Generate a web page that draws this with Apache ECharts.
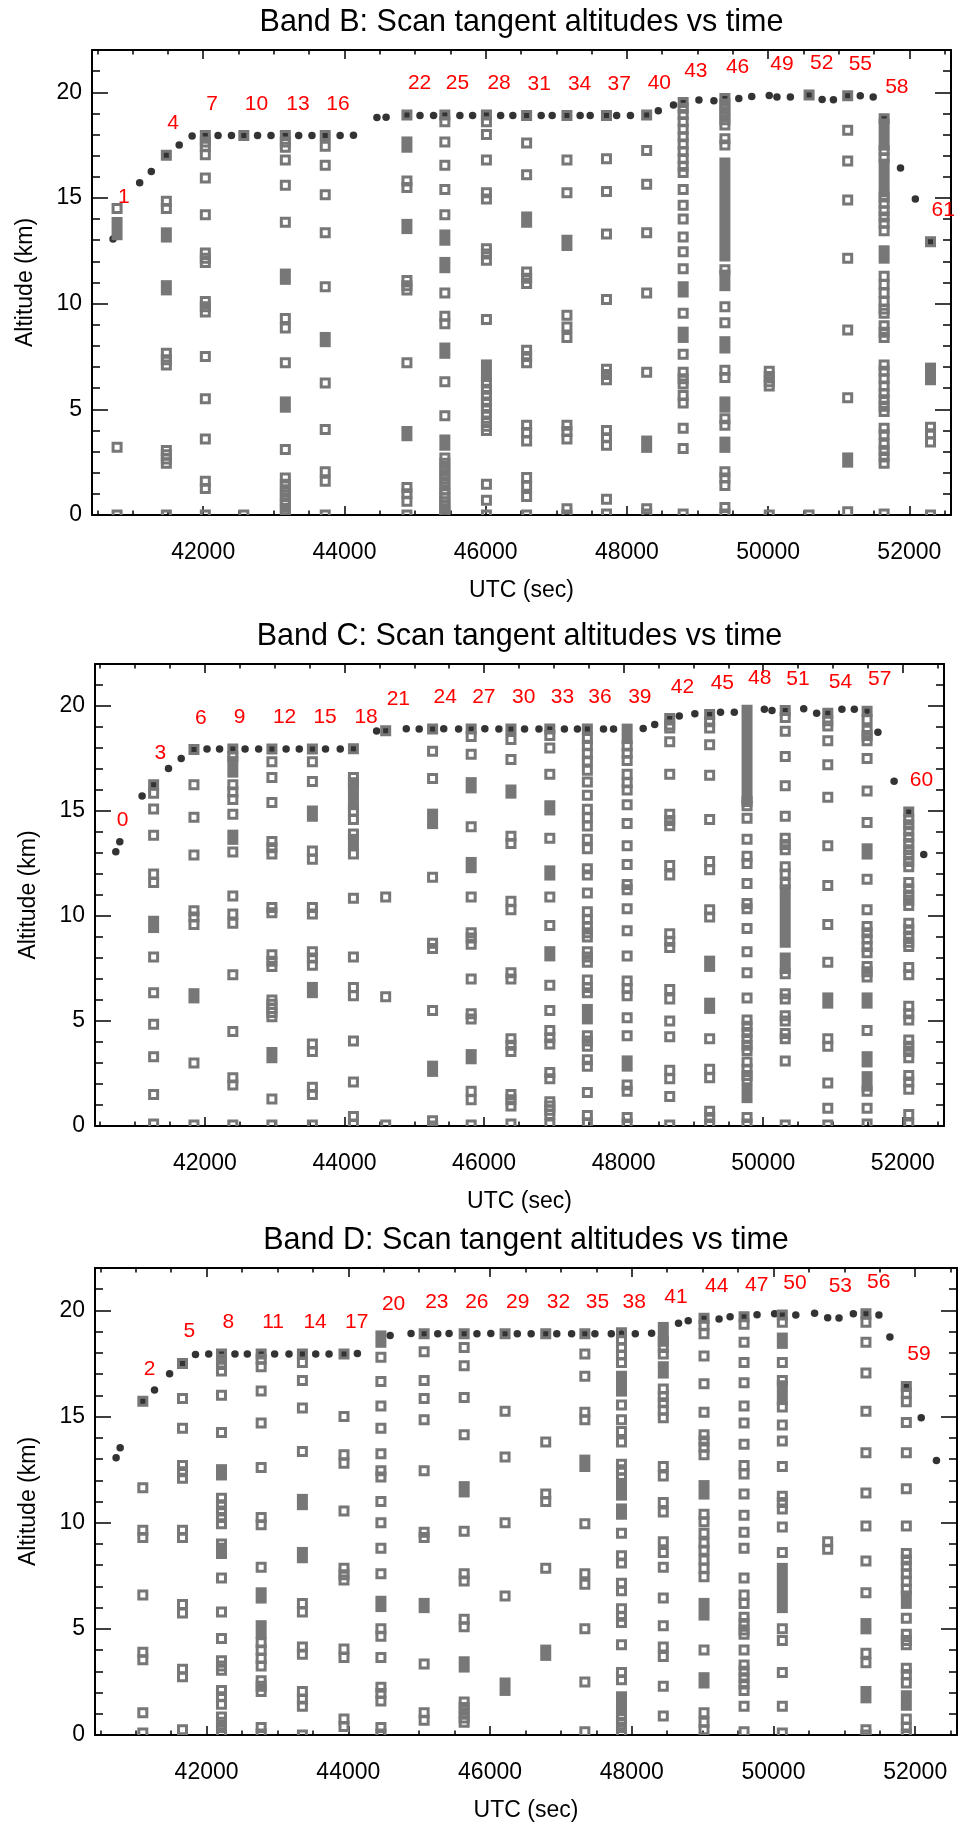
<!DOCTYPE html>
<html>
<head>
<meta charset="utf-8">
<script src="https://cdn.jsdelivr.net/npm/echarts@6/dist/echarts.min.js"></script>
<style>
  html, body { margin: 0; padding: 0; background: #fff; }
  #chart { width: 959px; height: 1825px; }
</style>
</head>
<body>
<div id="chart"></div>
<script>
// ---- scan sequence (scan 19 was not taken) ----
const scanIds = [0, 1, 2, 3, 4, 5, 6, 7, 8, 9, 10, 11, 12, 13, 14, 15, 16, 17, 18,
  20, 21, 22, 23, 24, 25, 26, 27, 28, 29, 30, 31, 32, 33, 34, 35, 36, 37, 38, 39, 40,
  41, 42, 43, 44, 45, 46, 47, 48, 49, 50, 51, 52, 53, 54, 55, 56, 57, 58, 59, 60, 61];
// UTC (sec) of each scan
const scanTimes = [40723, 40780, 41100, 41265, 41478, 41660, 41843, 42030, 42210, 42400,
  42575, 42770, 42960, 43163, 43352, 43540, 43728, 43939, 44128,
  44460, 44590, 44885, 45070, 45262, 45422, 45635, 45815, 46011, 46212, 46385,
  46580, 46786, 46942, 47151, 47338, 47480, 47711, 47855, 48050, 48280,
  48445, 48660, 48797, 49020, 49232, 49388, 49585, 49768, 50016, 50125,
  50315, 50580, 50765, 50925, 51127, 51305, 51488, 51643, 51875, 52085, 52300];
// highest tangent altitude (km) of each scan
const scanTops = [13.06, 13.53, 15.72, 16.25, 17.02, 17.5, 17.93, 17.95, 17.95, 17.95,
  17.95, 17.95, 17.95, 17.95, 17.95, 17.95, 17.95, 17.95, 17.97,
  18.81, 18.82, 18.92, 18.9, 18.9, 18.92, 18.9, 18.9, 18.92, 18.9, 18.9,
  18.9, 18.9, 18.9, 18.9, 18.9, 18.9, 18.9, 18.9, 18.9, 18.93,
  19.12, 19.4, 19.52, 19.63, 19.6, 19.7, 19.7, 19.8, 19.85, 19.78,
  19.78, 19.87, 19.66, 19.65, 19.84, 19.84, 19.78, 18.75, 16.42, 14.95, 12.93];

// ---- axis ticks ----
const xMajorTicks = [42000, 44000, 46000, 48000, 50000, 52000];
const xMinorTicks = [40500, 41000, 41500, 42500, 43000, 43500, 44500, 45000, 45500,
  46500, 47000, 47500, 48500, 49000, 49500, 50500, 51000, 51500, 52500];
const yMajorTicks = [0, 5, 10, 15, 20];
const yMinorTicks = [1, 2, 3, 4, 6, 7, 8, 9, 11, 12, 13, 14, 16, 17, 18, 19, 21];

// ---- Band B: scans labelled, measured altitudes, dense altitude runs ----
const bandBScans = [1, 4, 7, 10, 13, 16, 22, 25, 28, 31, 34, 37, 40, 43, 46, 49, 52, 55, 58, 61];
const bandBSquares = [
  [1, [14.5, 3.2, 0]],
  [4, [17.02, 14.85, 14.5, 7.65, 7.35, 7.1, 3.05, 2.85, 2.65, 2.45, 0]],
  [7, [17.95, 17.65, 17.45, 17.05, 15.95, 14.2, 12.4, 12.15, 11.95, 10.1, 9.85, 9.6, 7.5, 5.5, 3.6, 1.6, 1.25, 0]],
  [10, [17.95, 0]],
  [13, [17.95, 17.65, 17.4, 16.8, 15.6, 13.85, 9.3, 8.85, 7.2, 3.1, 1.75, 1.45, 1.2, 0.95, 0.7, 0.5, 0.25, 0]],
  [16, [17.95, 17.45, 16.55, 15.15, 13.35, 10.8, 6.25, 4.05, 2.05, 1.6, 0]],
  [22, [18.92, 15.8, 15.5, 11.1, 10.85, 10.65, 7.2, 1.3, 1.0, 0.65, 0]],
  [25, [18.92, 18.6, 17.65, 16.55, 15.4, 14.2, 10.5, 9.4, 9.05, 6.3, 4.7, 2.7, 2.45, 2.2, 1.95, 1.7, 1.45, 1.2, 1.0, 0.8, 0.6, 0.45, 0.3, 0.15, 0]],
  [28, [18.92, 18.6, 18.0, 16.8, 15.25, 14.95, 12.6, 12.35, 12.05, 9.25, 6.25, 5.95, 5.65, 5.35, 5.05, 4.75, 4.45, 4.2, 4.0, 1.45, 0.7, 0]],
  [31, [18.9, 17.6, 16.1, 11.5, 11.2, 10.95, 7.8, 7.5, 7.2, 4.25, 3.9, 3.5, 1.77, 1.36, 0.88, 0]],
  [34, [18.9, 16.8, 15.25, 9.45, 8.9, 8.4, 4.25, 3.95, 3.6, 0.3, 0]],
  [37, [18.9, 16.85, 15.3, 13.3, 10.2, 6.9, 6.65, 6.4, 4.0, 3.65, 3.3, 0.75, 0.05]],
  [40, [18.93, 17.25, 15.65, 13.35, 10.5, 6.75, 0.3, 0.05]],
  [43, [19.52, 19.25, 18.95, 18.6, 18.25, 17.9, 17.55, 17.2, 16.85, 16.5, 16.2, 15.4, 14.65, 14.0, 13.15, 12.45, 11.65, 9.55, 7.6, 6.75, 6.45, 6.2, 5.65, 5.3, 4.1, 3.15, 0.05]],
  [46, [19.7, 19.45, 19.2, 18.95, 18.7, 18.45, 17.8, 17.5, 11.6, 9.85, 9.1, 6.85, 6.5, 4.55, 4.25, 2.05, 1.75, 1.4, 0.35, 0.05]],
  [49, [6.8, 6.55, 6.3, 6.1, 0]],
  [52, [19.87, 0]],
  [55, [19.84, 18.2, 16.75, 14.9, 12.15, 8.75, 5.55, 0.15]],
  [58, [18.75, 17.25, 16.9, 15.05, 14.75, 14.4, 14.1, 13.8, 13.45, 11.3, 10.9, 10.5, 10.1, 9.75, 9.55, 8.95, 8.65, 8.4, 7.1, 6.8, 6.45, 6.1, 5.75, 5.45, 5.15, 4.9, 4.1, 3.8, 3.35, 3.05, 2.75, 2.45, 0.05]],
  [61, [12.93, 4.15, 3.85, 3.45, 0]]
];
const bandBRuns = [
  [1, 13.26, 13.84], [4, 13.15, 13.35], [4, 10.65, 10.85], [13, 11.15, 11.4], [13, 5.1, 5.35],
  [16, 8.2, 8.4], [22, 17.4, 17.65], [22, 13.55, 13.75], [22, 3.75, 3.95], [25, 13.0, 13.25],
  [25, 11.7, 11.95], [25, 7.65, 7.9], [25, 3.3, 3.55], [28, 6.55, 7.1], [31, 13.85, 14.1],
  [34, 12.75, 13.0], [40, 3.2, 3.5], [43, 10.55, 10.8], [43, 8.4, 8.65], [46, 12.25, 16.65],
  [46, 10.85, 11.35], [46, 7.9, 8.2], [46, 5.1, 5.35], [46, 3.2, 3.45], [55, 2.5, 2.7],
  [58, 17.5, 18.5], [58, 15.3, 16.6], [58, 12.15, 12.5], [61, 6.4, 6.95]
];

// ---- Band C ----
const bandCScans = [0, 3, 6, 9, 12, 15, 18, 21, 24, 27, 30, 33, 36, 39, 42, 45, 48, 51, 54, 57, 60];
const bandCSquares = [
  [3, [16.25, 15.85, 15.1, 13.85, 12.0, 11.6, 8.05, 6.35, 4.85, 3.3, 1.5, 0.1]],
  [6, [17.93, 16.25, 14.7, 12.9, 10.25, 9.95, 9.6, 3.0, 0.05]],
  [9, [17.95, 17.6, 16.25, 15.9, 15.55, 14.85, 13.05, 10.95, 10.1, 9.65, 7.2, 4.5, 2.3, 1.95, 0.05]],
  [12, [17.95, 17.35, 16.6, 15.4, 13.55, 13.25, 12.95, 10.4, 10.15, 8.15, 7.85, 7.6, 6.0, 5.8, 5.6, 5.4, 5.2, 1.28, 0.05]],
  [15, [17.95, 17.35, 16.4, 13.1, 12.7, 10.4, 10.1, 8.3, 8.0, 7.65, 3.9, 3.55, 1.85, 1.5, 0.05]],
  [18, [17.97, 16.6, 16.35, 15.0, 14.6, 13.9, 12.95, 10.85, 8.05, 6.6, 6.2, 4.05, 2.1, 0.45, 0.1]],
  [21, [18.82, 10.9, 6.15, 0.05]],
  [24, [18.9, 17.85, 16.55, 11.85, 8.7, 8.45, 5.5, 0.25, 0]],
  [27, [18.9, 18.55, 17.7, 14.25, 10.9, 9.2, 8.95, 8.65, 7.0, 5.35, 5.1, 1.65, 1.25, 0.05]],
  [30, [18.9, 18.4, 17.45, 13.8, 13.45, 10.7, 10.3, 7.3, 7.0, 4.15, 3.85, 3.55, 1.5, 1.25, 0.95, 0.1]],
  [33, [18.9, 18.6, 18.0, 16.75, 13.7, 10.9, 9.55, 6.7, 5.5, 4.55, 4.2, 3.9, 2.55, 2.25, 1.15, 0.95, 0.75, 0.55, 0.1]],
  [36, [18.9, 18.45, 18.13, 17.73, 17.38, 16.94, 16.38, 15.75, 15.08, 14.68, 14.28, 13.65, 13.2, 12.25, 11.95, 11.1, 10.2, 9.85, 9.5, 9.2, 9.0, 8.3, 8.05, 7.8, 6.95, 6.6, 6.35, 4.3, 4.05, 3.8, 3.15, 2.85, 1.6, 0.5, 0.15]],
  [39, [18.1, 17.75, 17.4, 16.75, 16.35, 16.0, 15.3, 14.4, 13.35, 12.45, 11.5, 11.25, 10.35, 9.3, 8.1, 6.9, 6.55, 6.2, 5.15, 4.3, 1.95, 1.65, 0.4, 0.1]],
  [42, [19.4, 19.1, 18.95, 18.3, 16.75, 14.85, 14.55, 14.3, 12.4, 11.95, 9.15, 8.8, 8.5, 6.5, 6.05, 5.0, 4.25, 2.65, 2.25, 1.4, 0.05]],
  [45, [19.6, 19.25, 18.95, 18.15, 16.7, 14.6, 12.6, 12.2, 10.3, 9.95, 4.15, 2.7, 2.3, 0.7, 0.4, 0.1]],
  [48, [15.45, 15.25, 14.65, 13.65, 12.85, 12.5, 11.55, 10.6, 10.35, 9.4, 8.3, 7.3, 6.1, 5.05, 4.75, 4.45, 4.15, 3.85, 3.6, 3.05, 2.7, 2.4, 2.2, 0.4, 0.1]],
  [51, [19.78, 19.45, 18.8, 17.6, 16.2, 14.75, 13.7, 13.4, 13.15, 12.35, 12.0, 11.55, 7.25, 6.3, 6.05, 5.25, 5.0, 4.4, 4.15, 3.1, 0.05]],
  [54, [19.65, 19.3, 19.05, 18.35, 17.2, 15.65, 13.35, 11.45, 9.6, 7.8, 4.15, 3.8, 2.05, 0.85, 0.05]],
  [57, [19.75, 19.35, 18.85, 18.6, 18.35, 17.5, 15.95, 14.45, 11.75, 10.3, 9.5, 9.2, 8.9, 8.55, 8.25, 7.6, 7.35, 7.1, 4.55, 1.65, 0.85, 0.1]],
  [60, [14.95, 14.6, 14.35, 14.05, 13.75, 13.45, 13.15, 12.9, 12.6, 12.35, 11.6, 11.3, 11.0, 10.75, 10.5, 9.65, 9.35, 9.05, 8.75, 8.55, 7.55, 7.2, 5.7, 5.35, 5.05, 4.1, 3.8, 3.55, 3.25, 2.4, 2.1, 1.75, 0.55, 0.1]]
];
const bandCRuns = [
  [3, 9.45, 9.75], [6, 6.1, 6.3], [9, 16.85, 17.35], [9, 13.65, 13.85], [12, 3.25, 3.5],
  [15, 14.75, 15.0], [15, 6.35, 6.6], [18, 15.3, 16.1], [18, 13.4, 13.65], [24, 14.4, 14.85],
  [24, 2.6, 2.85], [27, 16.1, 16.35], [27, 12.3, 12.55], [27, 3.2, 3.4], [30, 15.85, 16.0],
  [33, 15.05, 15.25], [33, 11.95, 12.15], [33, 8.1, 8.3], [36, 5.1, 5.55], [39, 18.45, 18.9],
  [39, 2.85, 3.1], [45, 7.6, 7.85], [45, 5.6, 5.85], [48, 15.6, 19.8], [48, 1.35, 1.7],
  [51, 8.75, 11.25], [51, 7.5, 8.0], [54, 5.85, 6.1], [57, 12.95, 13.2], [57, 5.85, 6.1],
  [57, 3.05, 3.3], [57, 1.9, 2.35]
];

// ---- Band D ----
const bandDScans = [2, 5, 8, 11, 14, 17, 20, 23, 26, 29, 32, 35, 38, 41, 44, 47, 50, 53, 56, 59];
const bandDSquares = [
  [2, [15.72, 11.65, 9.65, 9.3, 6.6, 3.9, 3.55, 1.05, 0.1]],
  [5, [17.5, 15.85, 14.45, 12.7, 12.4, 12.1, 9.65, 9.3, 6.15, 5.75, 3.1, 2.75, 0.25]],
  [8, [17.95, 17.7, 17.45, 17.15, 16.0, 14.25, 11.15, 10.85, 10.55, 10.25, 9.95, 9.0, 7.4, 5.8, 4.55, 3.5, 3.25, 3.05, 2.1, 1.8, 1.45, 0.85, 0.6, 0.35, 0.1]],
  [11, [17.95, 17.7, 17.35, 16.2, 14.7, 12.6, 10.25, 9.9, 7.9, 4.35, 4.0, 3.6, 3.25, 2.55, 2.3, 2.05, 0.35, 0.05]],
  [14, [17.95, 17.55, 16.7, 15.4, 13.35, 6.2, 5.8, 4.15, 3.8, 2.05, 1.7, 1.35, 0]],
  [17, [17.95, 15.0, 13.2, 12.8, 10.55, 7.85, 7.55, 7.3, 4.05, 3.65, 0.75, 0.4]],
  [20, [17.8, 16.65, 15.5, 14.45, 13.25, 12.45, 12.15, 11.0, 10.0, 8.8, 7.6, 5.0, 4.65, 3.65, 2.25, 1.95, 1.6, 0.35, 0.05]],
  [23, [18.9, 18.05, 16.7, 15.85, 14.85, 12.45, 9.55, 9.3, 3.35, 1.05, 0.7]],
  [26, [18.9, 18.25, 17.4, 15.9, 14.15, 9.6, 7.6, 7.25, 5.45, 5.1, 1.55, 1.3, 1.05, 0.8, 0.6]],
  [29, [18.9, 15.25, 13.1, 10.0, 6.55]],
  [32, [18.9, 13.8, 11.35, 11.0, 7.85]],
  [35, [18.9, 17.95, 16.9, 15.2, 14.85, 9.95, 7.6, 7.1, 5.0, 2.5, 0.15]],
  [38, [18.95, 18.6, 18.25, 17.9, 17.55, 15.55, 14.85, 14.3, 13.8, 12.75, 12.5, 12.1, 9.5, 8.45, 8.1, 7.15, 6.8, 5.95, 5.6, 5.3, 4.25, 2.95, 2.6, 1.15, 0.9, 0.6, 0.35, 0.1]],
  [41, [18.55, 18.25, 17.95, 16.3, 15.95, 15.65, 15.3, 14.95, 12.65, 12.2, 10.95, 10.5, 9.1, 8.6, 7.9, 6.45, 5.15, 4.15, 3.7, 2.3, 0.9]],
  [44, [19.63, 19.3, 18.9, 17.85, 16.55, 15.2, 14.15, 13.85, 13.55, 13.2, 10.4, 10.05, 9.5, 9.05, 8.7, 8.25, 7.85, 7.45, 4.0, 1.05, 0.6, 0.25]],
  [47, [19.7, 19.35, 18.5, 17.55, 16.6, 15.5, 14.7, 13.7, 12.7, 12.3, 11.35, 10.35, 9.55, 8.8, 7.4, 6.6, 6.2, 5.55, 5.25, 4.95, 4.75, 4.0, 3.3, 3.0, 2.7, 2.4, 2.1, 1.35, 0.15]],
  [50, [19.78, 19.45, 17.55, 16.7, 15.45, 14.6, 13.85, 12.65, 11.25, 10.95, 10.65, 9.8, 8.6, 5.0, 4.45, 2.95, 1.35, 0.1]],
  [53, [9.1, 8.75]],
  [56, [19.84, 19.45, 18.5, 17.05, 15.25, 13.3, 11.4, 9.85, 8.2, 6.7, 3.85, 3.4, 0.25, 0]],
  [59, [16.42, 16.1, 15.7, 14.72, 13.3, 11.6, 9.85, 8.55, 8.25, 7.95, 7.6, 7.25, 6.85, 5.5, 4.75, 4.45, 4.25, 3.15, 2.85, 2.45, 0.75, 0.35, 0.05]]
];
const bandDRuns = [
  [8, 12.25, 12.5], [8, 8.55, 8.8], [11, 6.45, 6.7], [11, 4.8, 5.15], [14, 10.85, 11.1],
  [14, 8.35, 8.6], [20, 18.5, 18.8], [20, 6.05, 6.3], [23, 6.0, 6.2], [26, 11.45, 11.7],
  [26, 3.2, 3.45], [29, 2.1, 2.45], [32, 3.75, 4.0], [35, 12.65, 12.95], [38, 16.2, 16.9],
  [38, 11.3, 11.85], [38, 10.4, 10.65], [38, 1.3, 1.8], [41, 18.75, 19.2], [41, 17.05, 17.35],
  [44, 11.35, 11.75], [44, 5.65, 6.2], [44, 2.45, 2.7], [50, 18.45, 18.7], [50, 15.8, 16.45],
  [50, 6.0, 7.85], [56, 5.0, 5.25], [56, 1.75, 2.05], [59, 6.2, 6.55], [59, 1.4, 1.85]
];

// ---- styling / layout ----
const FONT = 'Liberation Sans, Arial, Helvetica, sans-serif';
const GRAY = '#777777';
const X_MIN = 40425, X_MAX = 52590;
const Y_MIN = 0, Y_MAX = 22;
const LABEL_LIFT = 1.5;      // km above the scan top where the scan number sits
const SQ = 8, SQ_LINE = 3;   // open square path size and stroke (px)

const panels = [
  { title: 'Band B: Scan tangent altitudes vs time', grid: { left: 92, top: 50, width: 859, height: 465 },
    scans: bandBScans, squares: bandBSquares, runs: bandBRuns },
  { title: 'Band C: Scan tangent altitudes vs time', grid: { left: 95, top: 664, width: 849, height: 462 },
    scans: bandCScans, squares: bandCSquares, runs: bandCRuns },
  { title: 'Band D: Scan tangent altitudes vs time', grid: { left: 95, top: 1268, width: 862, height: 467 },
    scans: bandDScans, squares: bandDSquares, runs: bandDRuns }
];

function timeOf(scan) { return scanTimes[scanIds.indexOf(scan)]; }
function topOf(scan) { return scanTops[scanIds.indexOf(scan)]; }
function plainNumber(v) { return String(v); }

function tickAxis(g, dim, position, values, len, opts) {
  const base = {
    gridIndex: g, type: 'value',
    min: dim === 'x' ? X_MIN : Y_MIN, max: dim === 'x' ? X_MAX : Y_MAX,
    position: position,
    axisLine: { show: false, onZero: false },
    axisTick: { show: true, inside: true, length: len, customValues: values,
      lineStyle: { color: '#000', width: 1.5 } },
    axisLabel: { show: false, customValues: values },
    splitLine: { show: false },
    silent: true
  };
  return Object.assign(base, opts || {});
}

const frameLine = { show: true, onZero: false, lineStyle: { color: '#000', width: 2 } };

const xAxes = [], yAxes = [], grids = [], series = [];

panels.forEach(function (p, g) {
  grids.push(Object.assign({ containLabel: false }, p.grid));

  // x axes: bottom (labelled), bottom minor, top (carries title), top minor
  xAxes.push(tickAxis(g, 'x', 'bottom', xMajorTicks, 9, {
    axisLine: frameLine,
    axisLabel: { show: true, customValues: xMajorTicks, formatter: plainNumber, margin: 26,
      fontSize: 23, color: '#000', fontFamily: FONT },
    name: 'UTC (sec)', nameLocation: 'middle', nameGap: 64,
    nameTextStyle: { fontSize: 23, color: '#000', fontFamily: FONT }
  }));
  xAxes.push(tickAxis(g, 'x', 'bottom', xMinorTicks, 4.5));
  xAxes.push(tickAxis(g, 'x', 'top', xMajorTicks, 9, {
    axisLine: frameLine,
    name: p.title, nameLocation: 'middle', nameGap: 12,
    nameTextStyle: { fontSize: 30.5, color: '#000', fontFamily: FONT }
  }));
  xAxes.push(tickAxis(g, 'x', 'top', xMinorTicks, 4.5));

  // y axes: left (labelled), left minor, right, right minor
  yAxes.push(tickAxis(g, 'y', 'left', yMajorTicks, 16, {
    axisLine: frameLine,
    axisLabel: { show: true, customValues: yMajorTicks, formatter: plainNumber, margin: 10,
      fontSize: 23, color: '#000', fontFamily: FONT },
    name: 'Altitude (km)', nameLocation: 'middle', nameGap: 55, nameRotate: 90,
    nameTextStyle: { fontSize: 23, color: '#000', fontFamily: FONT }
  }));
  yAxes.push(tickAxis(g, 'y', 'left', yMinorTicks, 8));
  yAxes.push(tickAxis(g, 'y', 'right', yMajorTicks, 16, { axisLine: frameLine }));
  yAxes.push(tickAxis(g, 'y', 'right', yMinorTicks, 8));

  const xi = g * 4, yi = g * 4;

  // scan tops (all scans, every band)
  series.push({
    type: 'scatter', xAxisIndex: xi, yAxisIndex: yi, silent: true,
    symbol: 'circle', symbolSize: 7.5, itemStyle: { color: '#000' },
    data: scanIds.map(function (s, i) { return [scanTimes[i], scanTops[i]]; }),
    z: 2
  });

  // measured tangent altitudes of this band: open squares
  const sqData = [];
  p.squares.forEach(function (col) {
    const t = timeOf(col[0]);
    col[1].forEach(function (a) { sqData.push([t, a]); });
  });
  series.push({
    type: 'custom', xAxisIndex: xi, yAxisIndex: yi, silent: true, clip: true, z: 3,
    encode: { x: 0, y: 1 },
    data: sqData,
    renderItem: function (params, api) {
      const c = api.coord([api.value(0), api.value(1)]);
      return { type: 'rect',
        shape: { x: c[0] - SQ / 2, y: c[1] - SQ / 2, width: SQ, height: SQ },
        style: { fill: 'none', stroke: GRAY, lineWidth: SQ_LINE } };
    }
  });

  // densely sampled altitude runs: squares merge into a solid bar
  series.push({
    type: 'custom', xAxisIndex: xi, yAxisIndex: yi, silent: true, clip: true, z: 3,
    encode: { x: 0, y: [1, 2] },
    data: p.runs.map(function (r) { return [timeOf(r[0]), r[1], r[2]]; }),
    renderItem: function (params, api) {
      const half = (SQ + SQ_LINE) / 2;
      const hi = api.coord([api.value(0), api.value(2)]);
      const lo = api.coord([api.value(0), api.value(1)]);
      return { type: 'rect',
        shape: { x: hi[0] - half, y: hi[1] - half, width: 2 * half, height: lo[1] - hi[1] + 2 * half },
        style: { fill: GRAY } };
    }
  });

  // scan numbers in red above each scan of this band
  series.push({
    type: 'custom', xAxisIndex: xi, yAxisIndex: yi, silent: true, clip: false, z: 4,
    encode: { x: 0, y: 1 },
    data: p.scans.map(function (s) { return [timeOf(s), topOf(s) + LABEL_LIFT, s]; }),
    renderItem: function (params, api) {
      const c = api.coord([api.value(0), api.value(1)]);
      return { type: 'text', x: c[0] + 1, y: c[1],
        style: { text: String(api.value(2)), fill: '#ff0000',
          font: '21px ' + FONT, fontSize: 21, fontFamily: FONT,
          align: 'left', textAlign: 'left', verticalAlign: 'middle', textVerticalAlign: 'middle' } };
    }
  });
});

const chart = echarts.init(document.getElementById('chart'), null, { renderer: 'canvas' });
chart.setOption({
  animation: false,
  backgroundColor: '#ffffff',
  textStyle: { fontFamily: FONT },
  grid: grids,
  xAxis: xAxes,
  yAxis: yAxes,
  series: series
});
</script>
</body>
</html>
